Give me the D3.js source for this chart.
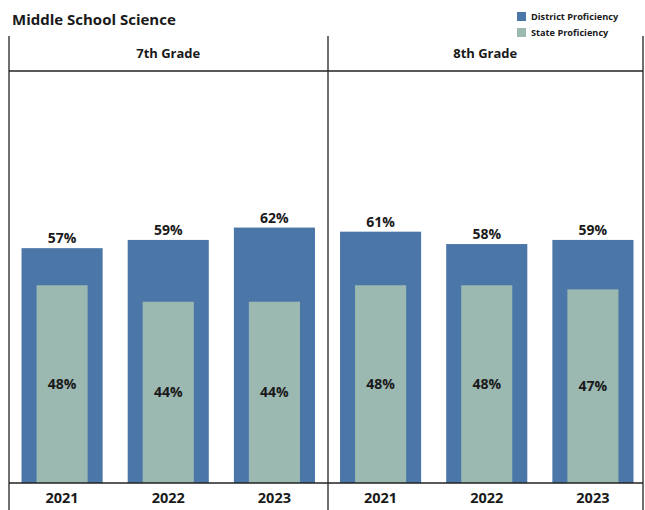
<!DOCTYPE html>
<html><head><meta charset="utf-8">
<script src="https://cdn.jsdelivr.net/npm/d3@7"></script>
<style>body{margin:0;background:#fff}svg{display:block}text{font-family:"Open Sans","Noto Sans",sans-serif;font-weight:bold;fill:#1a1a1a}</style>
</head><body><svg id="c" width="645" height="510"></svg>
<script>
const title = "Middle School Science";
const grades = ["7th Grade", "8th Grade"];
const years = ["2021", "2022", "2023"];
const district7 = [57, 59, 62];
const state7 = [48, 44, 44];
const district8 = [61, 58, 59];
const state8 = [48, 48, 47];
const seriesNames = ["District Proficiency", "State Proficiency"];
const colors = ["#4a77a8", "#9bb8b1"];

(function () {
const svg = d3.select("#c");
const panels = [
  {grade: grades[0], district: district7, state: state7},
  {grade: grades[1], district: district8, state: state8}
];
const L = 9, R = 643, T = 71, B = 483;
const px = d3.scaleBand().domain(grades).range([L, 646]);
const y = d3.scaleLinear().domain([0, 100]).range([B, T]);

svg.append("text").attr("x", 12).attr("y", 25).attr("font-size", 15).text(title);

seriesNames.forEach((s, i) => {
  svg.append("rect").attr("x", 517).attr("y", 12 + i * 16).attr("width", 9).attr("height", 9).attr("fill", colors[i]);
  svg.append("text").attr("x", 531).attr("y", 20 + i * 16).attr("font-size", 9.2).text(s);
});

panels.forEach(p => {
  const x0 = px(p.grade), w = px.bandwidth();
  const g = svg.append("g");
  const x = d3.scaleBand().domain(years).range([x0, x0 + w]).paddingInner(0.236).paddingOuter(0.118);
  g.append("text").attr("x", (x0 + Math.min(x0 + w, R)) / 2).attr("y", 58).attr("text-anchor", "middle").attr("font-size", 13).text(p.grade);
  years.forEach((yr, i) => {
    const bx = x(yr), bw = x.bandwidth();
    g.append("rect").attr("x", bx).attr("y", y(p.district[i])).attr("width", bw).attr("height", B - y(p.district[i])).attr("fill", colors[0]);
    const sw = bw * 0.63;
    g.append("rect").attr("x", bx + (bw - sw) / 2).attr("y", y(p.state[i])).attr("width", sw).attr("height", B - y(p.state[i])).attr("fill", colors[1]);
    g.append("text").attr("x", bx + bw / 2).attr("y", y(p.district[i]) - 5).attr("text-anchor", "middle").attr("font-size", 14).text(p.district[i] + "%");
    g.append("text").attr("x", bx + bw / 2).attr("y", (y(p.state[i]) + B) / 2 + 5).attr("text-anchor", "middle").attr("font-size", 14).text(p.state[i] + "%");
    g.append("text").attr("x", bx + bw / 2).attr("y", 503).attr("text-anchor", "middle").attr("font-size", 14.5).text(yr);
  });
});

const line = (x1, y1, x2, y2) => svg.append("line").attr("x1", x1).attr("y1", y1).attr("x2", x2).attr("y2", y2).attr("stroke", "#222").attr("stroke-width", 1.3);
line(L, T, R, T);
line(L, B, R, B);
line(L, 36, L, 510);
line(Math.round(px(grades[1])), 36, Math.round(px(grades[1])), 510);
line(R, 36, R, 510);
})();
</script></body></html>
